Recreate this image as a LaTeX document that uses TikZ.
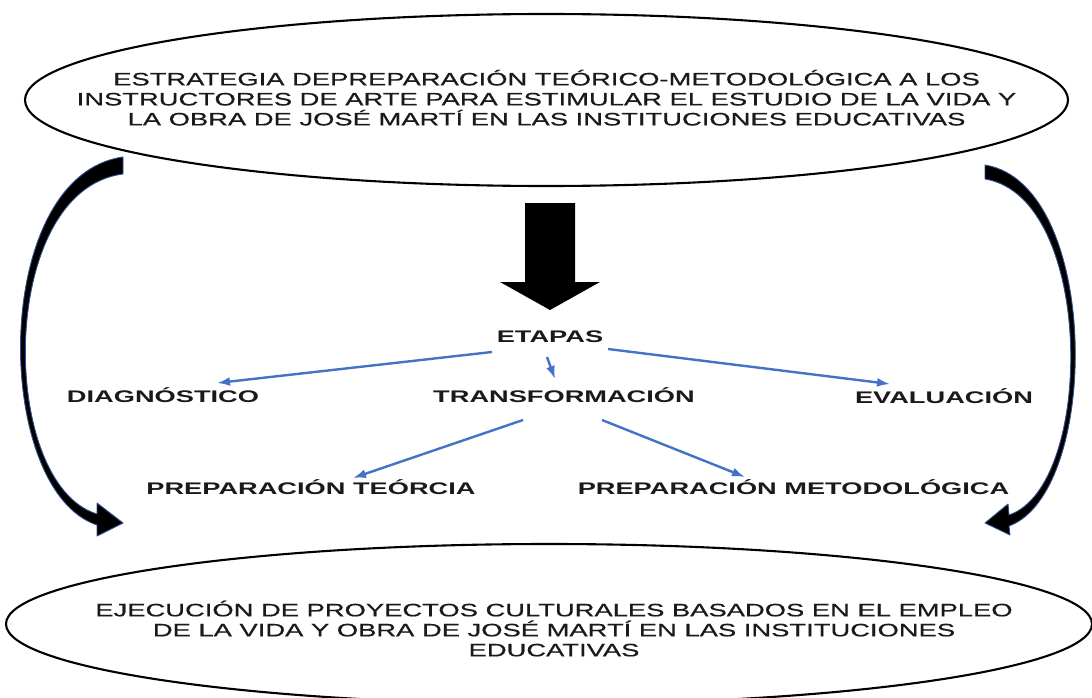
\documentclass[tikz,border=0pt]{standalone}
\usepackage{fontspec}
\setmainfont{Liberation Sans}
\newfontfamily\ellfont{Liberation Sans}[FakeStretch=1.52,FakeBold=0.6]
\newfontfamily\labfont{Liberation Sans}[FakeStretch=1.62]
\usetikzlibrary{shapes.geometric,arrows.meta}
\definecolor{arrowblue}{HTML}{4472C4}
\definecolor{edgeblue}{HTML}{2F4F8F}
\definecolor{txt}{HTML}{1A1A1A}
\tikzset{
  bigell/.style={ellipse, draw=black, line width=2.1pt, inner sep=0pt},
  elltext/.style={font=\ellfont\fontsize{18}{20}\selectfont, align=center, inner sep=0pt, text=txt},
  lab/.style={font=\labfont\bfseries\fontsize{16.8}{20}\selectfont, inner sep=0pt, text height=12pt, text depth=0pt, text=txt},
  bluearrow/.style={draw=arrowblue, line width=2.4pt, -{Latex[length=13pt,width=9pt]}},
  curvarrow/.style={fill=black, draw=edgeblue, line width=0.9pt, line join=round},
}
\begin{document}
\begin{tikzpicture}[x=1pt,y=-1pt]
\useasboundingbox (0,0) rectangle (1092,698);
\fill[white] (0,0) rectangle (1092,698);

% ellipses
\node[bigell, minimum width=1043pt, minimum height=172pt] (top) at (546.5,100) {};
\node[elltext] (toptext) at (546.5,97.7) {ESTRATEGIA DEPREPARACIÓN TEÓRICO-METODOLÓGICA A LOS\\INSTRUCTORES DE ARTE PARA ESTIMULAR EL ESTUDIO DE LA VIDA Y\\LA OBRA DE JOSÉ MARTÍ EN LAS INSTITUCIONES EDUCATIVAS};

\node[bigell, minimum width=1086pt, minimum height=160pt] (bot) at (549,624) {};
\node[elltext] (bottext) at (554,628.6) {EJECUCIÓN DE PROYECTOS CULTURALES BASADOS EN EL EMPLEO\\DE LA VIDA Y OBRA DE JOSÉ MARTÍ EN LAS INSTITUCIONES\\EDUCATIVAS};

% block arrow
\fill[black] (525,203) -- (575,203) -- (575,282) -- (600,282) -- (550,310) -- (500,282) -- (525,282) -- cycle;

% labels
\node[lab] (etapas) at (550,336) {ETAPAS};
\node[lab] (diag) at (163,396.5) {DIAGNÓSTICO};
\node[lab] (trans) at (564,396) {TRANSFORMACIÓN};
\node[lab] (eval) at (944,397) {EVALUACIÓN};
\node[lab] (prept) at (311,488.5) {PREPARACIÓN TEÓRCIA};
\node[lab] (prepm) at (793.5,488.5) {PREPARACIÓN METODOLÓGICA};

% blue arrows
\draw[bluearrow] ([shift={(-58,16)}]etapas.center) -- ([shift={(54,-13.5)}]diag.center);
\draw[bluearrow] ([shift={(-3,21)}]etapas.center) -- ([shift={(-9,-17)}]trans.center);
\draw[bluearrow] ([shift={(58,13)}]etapas.center) -- ([shift={(-54,-13)}]eval.center);
\draw[bluearrow] ([shift={(-41,24)}]trans.center) -- ([shift={(42,-10.5)}]prept.center);
\draw[bluearrow] ([shift={(38,24)}]trans.center) -- ([shift={(-48.5,-11.5)}]prepm.center);

% curved arrows
\filldraw[curvarrow] (123,157) .. controls (-10,176) and (-8,490) .. (97,525)
  -- (97,536) -- (123,523) -- (97,503) -- (97,514)
  .. controls (-2,484) and (-3,190) .. (123,174) -- cycle;
\filldraw[curvarrow] (985,165) .. controls (1101,184) and (1101,492) .. (1009,526)
  -- (1010,535) -- (985,523) -- (1008,504) -- (1009,515)
  .. controls (1095,486) and (1095,197) .. (985,179) -- cycle;
\end{tikzpicture}
\end{document}
